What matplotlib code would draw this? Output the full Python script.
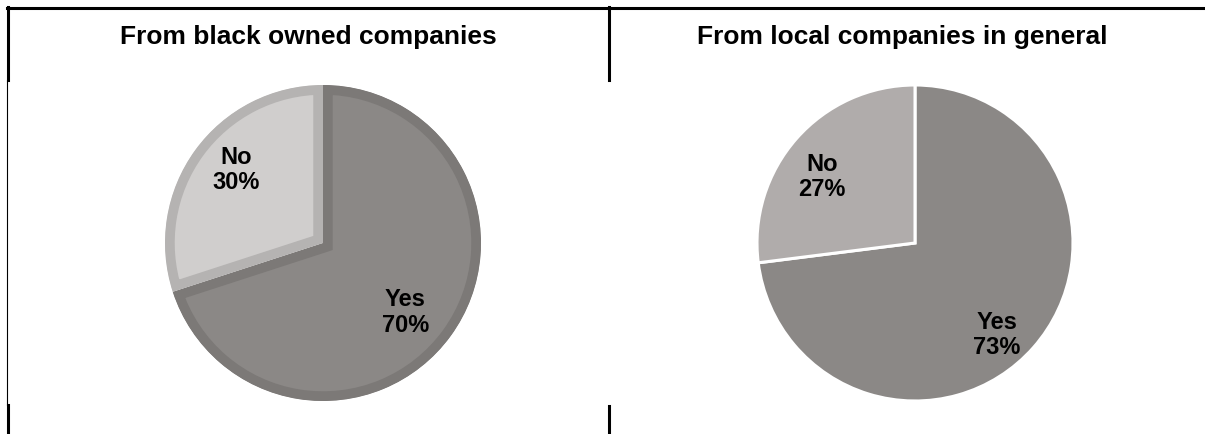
import matplotlib.pyplot as plt
from matplotlib.lines import Line2D

plt.rcParams['font.family'] = ['Liberation Sans', 'DejaVu Sans']

# survey answers, yes / no shares
titles = ["From black owned companies", "From local companies in general"]
categories = ["Yes", "No"]
black_owned = [70, 30]
local_general = [73, 27]

W, H = 1205, 434
fig = plt.figure(figsize=(W / 100, H / 100), dpi=100)


def px_axes(cx, cy, r):
    # axes box in pixel coords (top-left origin), square around the pie
    return fig.add_axes([(cx - r) / W, (H - cy - r) / H, 2 * r / W, 2 * r / H])


def draw_pie(ax, values, faces, edges, edge_w, label_pos):
    wedges, _ = ax.pie(values, startangle=90, counterclock=False, radius=1,
                       colors=faces)
    for w, ec in zip(wedges, edges):
        w.set_edgecolor(ec)
        w.set_linewidth(edge_w)
        if ec != "white":
            # border drawn inside each slice only
            w.set_clip_path(w)
            w.set_clip_on(True)
    for name, v, (x, y) in zip(categories, values, label_pos):
        ax.text(x, y, f"{name}\n{v}%", ha="center", va="center",
                fontsize=17, fontweight="bold", linespacing=1.12)
    ax.set_xlim(-1, 1)
    ax.set_ylim(-1, 1)
    ax.axis("off")


ax1 = px_axes(323, 243, 158)
draw_pie(ax1, black_owned, ["#8b8886", "#d0cecd"], ["#7c7977", "#b5b3b2"], 14,
         [(0.52, -0.44), (-0.55, 0.46)])

ax2 = px_axes(915, 243, 158)
draw_pie(ax2, local_general, ["#8b8886", "#b0acab"], ["white", "white"], 2.2,
         [(0.52, -0.58), (-0.59, 0.42)])

fig.text(308 / W, 1 - 37 / H, titles[0], ha="center", va="center",
         fontsize=19, fontweight="bold")
fig.text(902 / W, 1 - 37 / H, titles[1], ha="center", va="center",
         fontsize=19, fontweight="bold")


# table borders around the two panels
def hline(x0, x1, y, lw):
    fig.add_artist(Line2D([x0 / W, x1 / W], [1 - y / H, 1 - y / H], color="black",
                          lw=lw, transform=fig.transFigure))


def vline(x, y0, y1, lw):
    fig.add_artist(Line2D([x / W, x / W], [1 - y0 / H, 1 - y1 / H], color="black",
                          lw=lw, transform=fig.transFigure))


hline(7, W, 7.5, 2.2)
vline(8, 7, 80, 2.2)
vline(7.5, 80, 405, 0.8)
vline(8, 405, H, 2.2)
vline(609, 7, 80, 2.2)
vline(609, 406, H, 2.2)

fig.savefig("out.png", dpi=100)
